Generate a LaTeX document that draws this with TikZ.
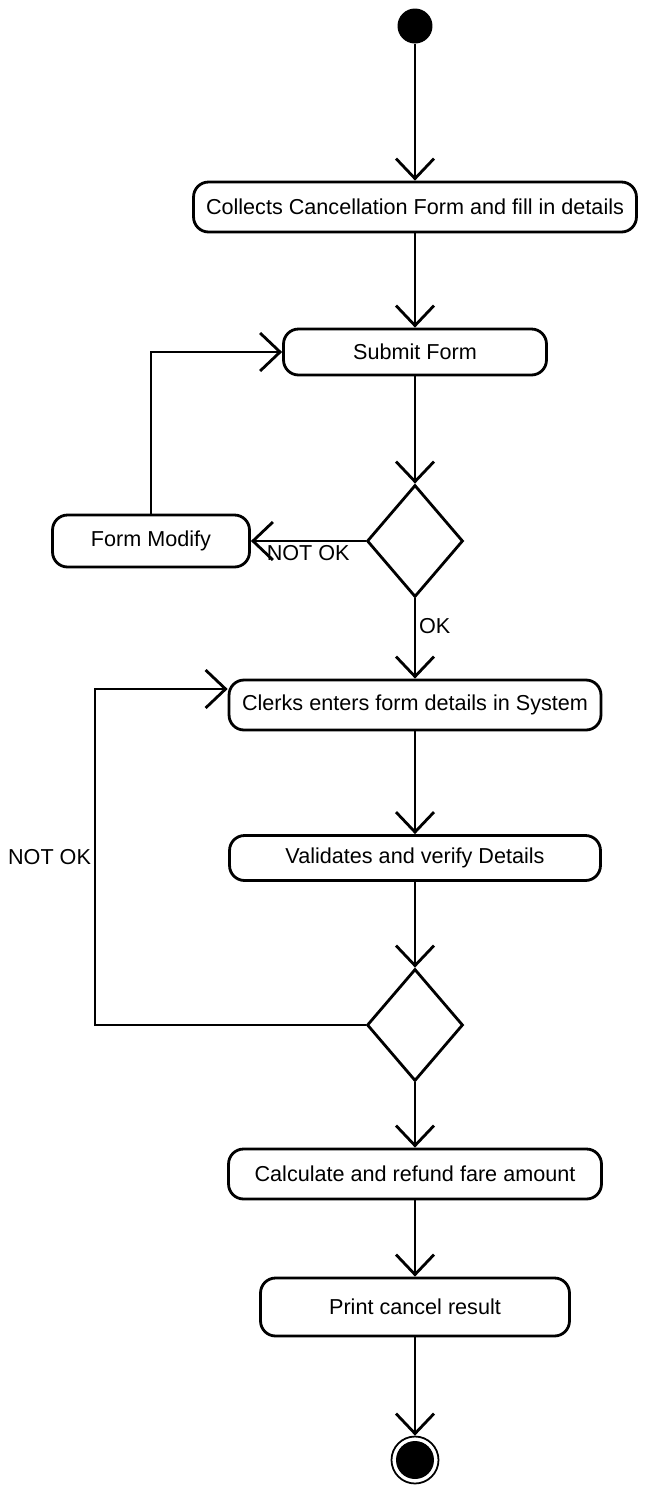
\documentclass[tikz,border=0pt]{standalone}
\usepackage{fontspec}
\setmainfont{Liberation Sans}
\usetikzlibrary{arrows.meta,shapes.geometric}
\begin{document}
\begin{tikzpicture}[
    x=0.02cm, y=-0.02cm,
    font=\fontsize{12.3}{14}\selectfont,
    actBox/.style={draw, line width=1.6pt, rounded corners=0.3cm, inner sep=2pt},
    decNode/.style={diamond, draw, line width=1.6pt, minimum width=1.92cm, minimum height=2.24cm, inner sep=0pt},
    startNode/.style={circle, fill=black, minimum size=0.7cm, inner sep=0pt},
    endNode/.style={circle, draw, line width=1pt, minimum size=0.94cm, inner sep=0pt,
        path picture={\fill (path picture bounding box.center) circle (0.38cm);}},
    flowArr/.style={draw, line width=1.6pt, -{Straight Barb[length=0.4cm, width=0.76cm, line width=1.6pt]}},
    guardLbl/.style={inner sep=1.5pt},
]
\useasboundingbox (0,0) rectangle (653,1489);

% Initial state
\node[startNode] (start) at (415,26) {};

% Activities
\node[actBox, minimum width=8.86cm, minimum height=1.0cm] (collect) at (415,207) {Collects Cancellation Form and fill in details};
\node[actBox, minimum width=5.26cm, minimum height=0.92cm] (submit) at (415,352) {Submit Form};
\node[decNode] (chkForm) at (415,541) {};
\node[actBox, minimum width=3.94cm, minimum height=1.04cm] (modify) at (151,541) {Form Modify};
\node[actBox, minimum width=7.44cm, minimum height=1.0cm] (enter) at (415,705) {Clerks enters form details in System};
\node[actBox, minimum width=7.42cm, minimum height=0.9cm] (validate) at (415,858) {Validates and verify Details};
\node[decNode] (chkData) at (415,1025) {};
\node[actBox, minimum width=7.46cm, minimum height=1.0cm] (refund) at (415,1174) {Calculate and refund fare amount};
\node[actBox, minimum width=6.18cm, minimum height=1.16cm] (print) at (415,1307) {Print cancel result};

% Final state
\node[endNode] (stop) at (415,1460) {};

% Transitions
\draw[flowArr] (start) -- (collect);
\draw[flowArr] (collect) -- (submit);
\draw[flowArr] (submit) -- (chkForm);
\draw[flowArr] (chkForm.west) -- node[guardLbl, below] {NOT OK} (modify.east);
\draw[flowArr] (modify.north) |- (submit.west);
\draw[flowArr] (chkForm.south) -- node[guardLbl, right, pos=0.35] {OK} (enter.north);
\draw[flowArr] (enter) -- (validate);
\draw[flowArr] (validate) -- (chkData);

% Loop back when details are wrong
\coordinate (loopL) at (95,1025);
\draw[flowArr] (chkData.west) -- (loopL)
    |- node[guardLbl, left, pos=0.25] {NOT OK} ([yshift=0.32cm]enter.west);

\draw[flowArr] (chkData.south) -- (refund.north);
\draw[flowArr] (refund) -- (print);
\draw[flowArr] (print) -- (stop);
\end{tikzpicture}
\end{document}
